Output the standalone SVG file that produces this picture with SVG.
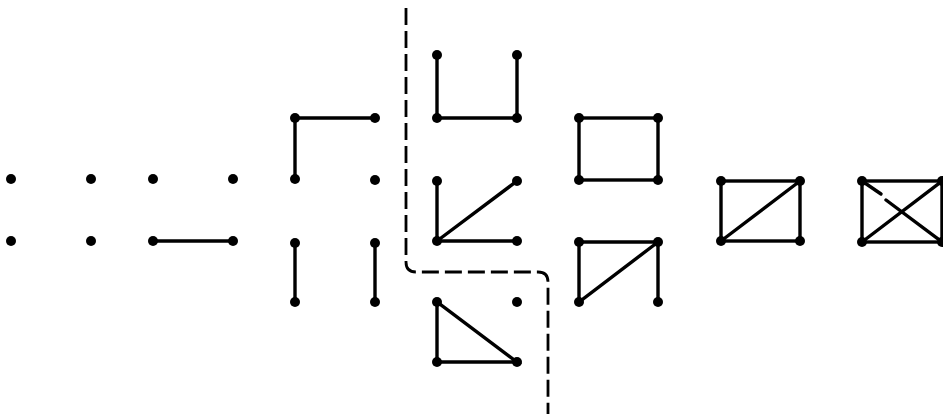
<svg xmlns="http://www.w3.org/2000/svg" width="943" height="414" viewBox="0 0 943 414">
<style>
.e{stroke:#000;stroke-width:3.4;fill:none;stroke-linecap:round}
.d{fill:#000}
.dash{stroke:#000;stroke-width:2.8;fill:none;stroke-dasharray:17 6}
</style>
<defs><circle id="p" r="5" class="d"/></defs>
<rect width="943" height="414" fill="#fff"/>
<g id="connectors">
<line class="e" x1="153" y1="241" x2="233" y2="241"/>
<line class="e" x1="295" y1="118" x2="375" y2="118"/>
<line class="e" x1="295" y1="118" x2="295" y2="179"/>
<line class="e" x1="295" y1="243" x2="295" y2="302"/>
<line class="e" x1="375" y1="243" x2="375" y2="302"/>
<polyline class="e" points="437,55 437,118 517,118 517,55"/>
<line class="e" x1="437" y1="181" x2="437" y2="241"/>
<line class="e" x1="437" y1="241" x2="517" y2="181"/>
<line class="e" x1="437" y1="241" x2="517" y2="241"/>
<polygon class="e" points="437,302 437,362 517,362"/>
<rect class="e" x="579" y="118" width="79" height="62"/>
<polyline class="e" points="658,302 658,242 579,242 579,302 658,242"/>
<rect class="e" x="721" y="181" width="79" height="60"/>
<line class="e" x1="721" y1="241" x2="800" y2="181"/>
<rect class="e" x="862" y="181" width="80" height="61"/>
<line class="e" x1="862" y1="242" x2="942" y2="181"/>
<line class="e" x1="862" y1="181" x2="881" y2="194"/>
<line class="e" x1="886" y1="200" x2="942" y2="242"/>
<path class="dash" d="M406,8 V262 Q406,272 416,272 H538 Q548,272 548,282 V414"/>
</g>
<g id="n1"><use href="#p" x="11" y="179"/><use href="#p" x="91" y="179"/><use href="#p" x="11" y="241"/><use href="#p" x="91" y="241"/></g>
<g id="n2"><use href="#p" x="153" y="179"/><use href="#p" x="233" y="179"/><use href="#p" x="153" y="241"/><use href="#p" x="233" y="241"/></g>
<g id="n3"><use href="#p" x="295" y="118"/><use href="#p" x="375" y="118"/><use href="#p" x="295" y="179"/><use href="#p" x="375" y="180"/></g>
<g id="n4"><use href="#p" x="295" y="243"/><use href="#p" x="375" y="243"/><use href="#p" x="295" y="302"/><use href="#p" x="375" y="302"/></g>
<g id="n5"><use href="#p" x="437" y="55"/><use href="#p" x="517" y="55"/><use href="#p" x="437" y="118"/><use href="#p" x="517" y="118"/></g>
<g id="n6"><use href="#p" x="437" y="181"/><use href="#p" x="517" y="181"/><use href="#p" x="437" y="241"/><use href="#p" x="517" y="241"/></g>
<g id="n7"><use href="#p" x="437" y="302"/><use href="#p" x="517" y="302"/><use href="#p" x="437" y="362"/><use href="#p" x="517" y="362"/></g>
<g id="n8"><use href="#p" x="579" y="118"/><use href="#p" x="658" y="118"/><use href="#p" x="579" y="180"/><use href="#p" x="658" y="180"/></g>
<g id="n9"><use href="#p" x="579" y="242"/><use href="#p" x="658" y="242"/><use href="#p" x="579" y="302"/><use href="#p" x="658" y="302"/></g>
<g id="n10"><use href="#p" x="721" y="181"/><use href="#p" x="800" y="181"/><use href="#p" x="721" y="241"/><use href="#p" x="800" y="241"/></g>
<g id="n11"><use href="#p" x="862" y="181"/><use href="#p" x="942" y="181"/><use href="#p" x="862" y="242"/><use href="#p" x="942" y="242"/></g>
</svg>
